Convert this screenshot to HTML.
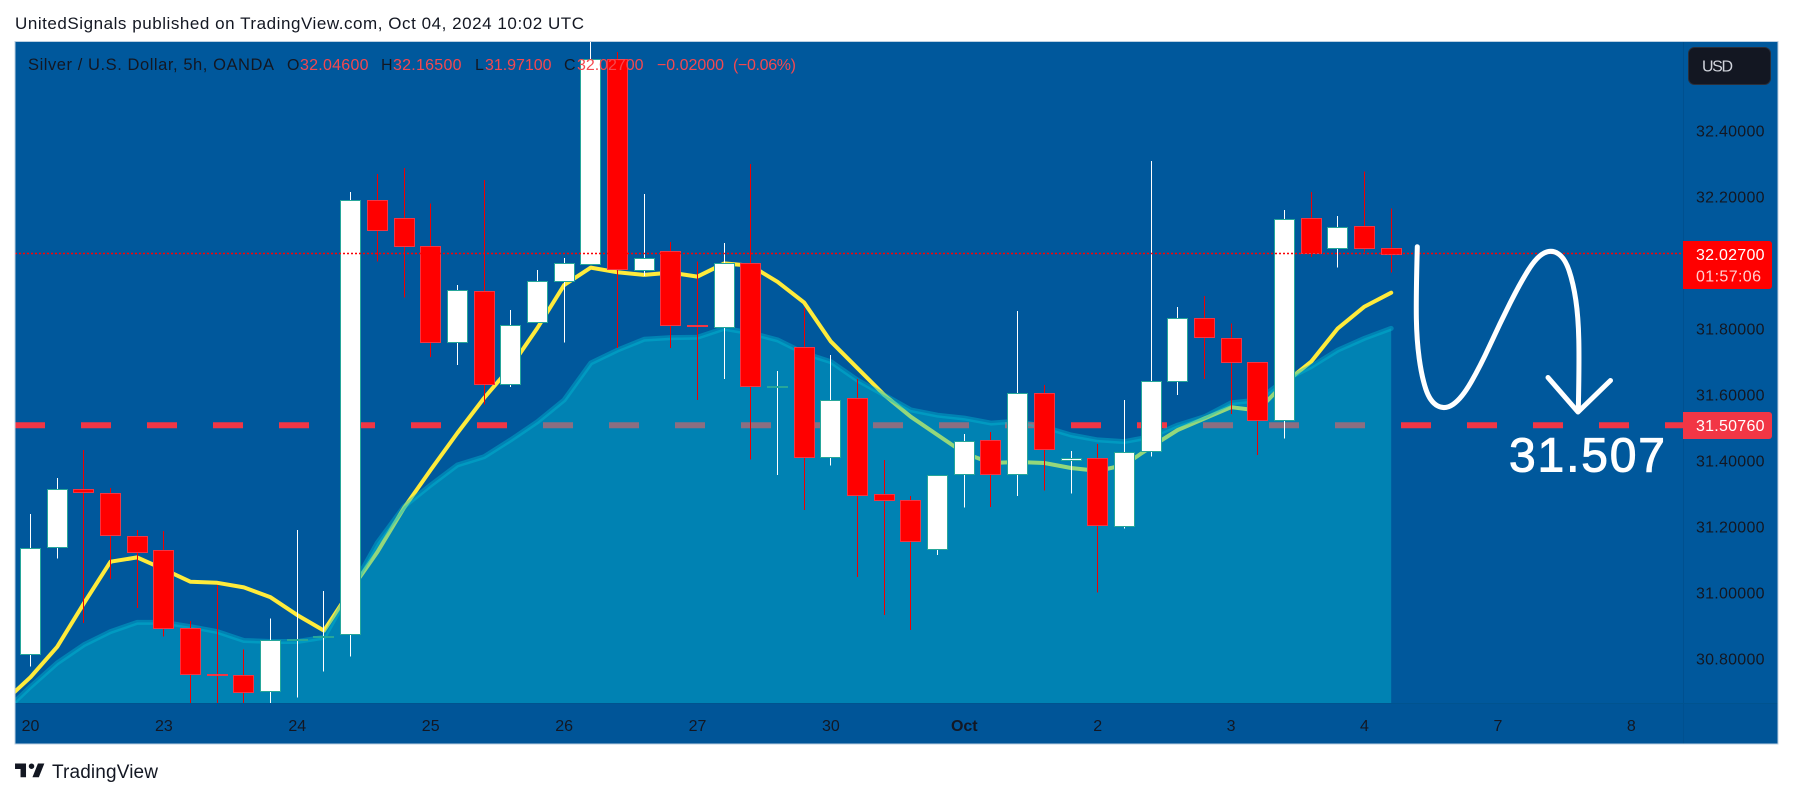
<!DOCTYPE html>
<html lang="en">
<head>
<meta charset="utf-8">
<title>Silver / U.S. Dollar, 5h, OANDA</title>
<style>
  html, body { margin: 0; padding: 0; background: #ffffff; width: 1793px; height: 798px; overflow: hidden; }
  svg { display: block; }
  text { font-family: "Liberation Sans", sans-serif; }
</style>
</head>
<body>
<svg id="chart" xmlns="http://www.w3.org/2000/svg" width="1793" height="798" viewBox="0 0 1793 798">
  <defs>
    <clipPath id="plot-clip"><rect x="15" y="42" width="1668" height="661"></rect></clipPath>
  </defs>

  <text x="15" y="29" font-size="17" fill="#131722" textLength="569" lengthAdjust="spacing">UnitedSignals published on TradingView.com, Oct 04, 2024 10:02 UTC</text>

  <rect x="15" y="41.5" width="1763" height="702" fill="#00589c"></rect>
  <rect x="15" y="703" width="1763" height="41" fill="#005598"></rect>

  <g id="price-axis-group"></g>
  <g id="time-axis-group"></g>

  <g clip-path="url(#plot-clip)">
    <g id="under-area"></g>
    <g id="area-group"></g>
    <g id="candles"></g>
    <g id="over-candles"></g>
  </g>

  <line x1="1683.5" y1="42" x2="1683.5" y2="744" stroke="#00508f" stroke-width="1"></line>
  <line x1="15" y1="703.5" x2="1778" y2="703.5" stroke="#00538f" stroke-width="1"></line>
  <rect x="15" y="41.5" width="1763" height="702.5" fill="none" stroke="#bcd0e2" stroke-width="1"></rect>

  <g font-size="16">
    <text x="28" y="70" fill="#131722" textLength="246" lengthAdjust="spacing" font-size="16.5">Silver / U.S. Dollar, 5h, OANDA</text>
    <text x="287" y="70" fill="#131722">O</text>
    <text x="300" y="70" fill="#f5484f" textLength="68.5" lengthAdjust="spacing">32.04600</text>
    <text x="381" y="70" fill="#131722">H</text>
    <text x="393" y="70" fill="#f5484f" textLength="68.5" lengthAdjust="spacing">32.16500</text>
    <text x="475" y="70" fill="#131722">L</text>
    <text x="485" y="70" fill="#f5484f" textLength="66.5" lengthAdjust="spacing">31.97100</text>
    <text x="564" y="70" fill="#131722">C</text>
    <text x="577" y="70" fill="#f5484f" textLength="66.5" lengthAdjust="spacing">32.02700</text>
    <text x="657" y="70" fill="#f5484f" textLength="67" lengthAdjust="spacing">−0.02000</text>
    <text x="733" y="70" fill="#f5484f" textLength="63" lengthAdjust="spacing">(−0.06%)</text>
  </g>

  <g>
    <rect x="1688.5" y="47.5" width="82" height="37" rx="6" fill="#131722" stroke="#2a2e39" stroke-width="1"></rect>
    <text x="1702" y="71.5" font-size="16" fill="#d1d4dc" textLength="31" lengthAdjust="spacing">USD</text>
  </g>

  <g>
    <path d="M1683 241 h86 a3 3 0 0 1 3 3 v42 a3 3 0 0 1 -3 3 h-86 z" fill="#ff0000"></path>
    <text x="1696" y="260" font-size="16" fill="#ffffff" textLength="68.5" lengthAdjust="spacing">32.02700</text>
    <text x="1696" y="281.5" font-size="16" fill="#ffd0d0" textLength="65" lengthAdjust="spacing">01:57:06</text>
  </g>
  <g>
    <path d="M1683 412 h86 a3 3 0 0 1 3 3 v21 a3 3 0 0 1 -3 3 h-86 z" fill="#f23645"></path>
    <text x="1696" y="431" font-size="16" fill="#ffffff" textLength="68.5" lengthAdjust="spacing">31.50760</text>
  </g>

  <path d="M1417.3 246.7 Q1416 296.7 1416.35 318.35 Q1416.7 340 1419.2 358.35 Q1421.7 376.7 1425.85 389.2 Q1430 401.7 1437.5 405.85 Q1445 410 1453.35 404.15 Q1461.7 398.3 1470.85 382.5 Q1480 366.7 1490 345 Q1500 323.3 1510 303.3 Q1520 283.3 1528.35 270 Q1536.7 256.7 1544.2 253 Q1551.7 249.3 1558.35 253.8 Q1565 258.3 1569.15 270.8 Q1573.3 283.3 1575.8 300 Q1578.3 316.7 1578.8 340 Q1579.3 363.3 1578.3 410" fill="none" stroke="#ffffff" stroke-width="5" stroke-linecap="round" stroke-linejoin="round"></path>
  <path d="M1548 377.5 L1578 412 L1610.5 380.5" fill="none" stroke="#ffffff" stroke-width="5" stroke-linecap="round" stroke-linejoin="round"></path>
  <text x="1509" y="471.5" font-size="48" fill="#ffffff" stroke="#ffffff" stroke-width="1" textLength="156" lengthAdjust="spacing">31.507</text>

  <g>
    <path d="M14 6H2v6h6v9h6V6zm14 15h-7l6-15h7l-6 15zm-8-9a3 3 0 1 0 0-6 3 3 0 0 0 0 6z" fill="#131722" transform="translate(13.2 758) scale(0.916)"></path>
    <text x="52" y="778" font-size="19" fill="#131722" textLength="106" lengthAdjust="spacing">TradingView</text>
  </g>
</svg>

<script>
// ---- Chart data ----
const openPrices = [30.813,31.138,31.313,31.301,31.171,31.128,30.892,30.753,30.750,30.702,30.859,30.866,30.874,32.189,32.135,32.050,31.759,31.913,31.632,31.819,31.944,31.995,32.618,31.977,32.035,31.812,31.804,31.998,31.625,31.744,31.410,31.591,31.298,31.281,31.132,31.359,31.462,31.359,31.604,31.403,31.407,31.201,31.429,31.642,31.832,31.771,31.698,31.522,32.135,32.044,32.110,32.046];
const highPrices = [31.238,31.348,31.432,31.317,31.190,31.187,30.914,31.023,30.828,30.922,31.190,31.005,32.214,32.269,32.287,32.180,31.932,32.251,31.857,31.978,32.015,32.705,32.638,32.208,32.062,32.003,32.060,32.299,31.672,31.863,31.720,31.647,31.402,31.293,31.356,31.481,31.487,31.854,31.629,31.429,31.451,31.584,32.308,31.866,31.899,31.816,31.698,32.160,32.214,32.142,32.276,32.165];
const lowPrices = [30.776,31.103,30.908,31.042,30.954,30.867,30.645,30.645,30.645,30.645,30.682,30.761,30.806,32.003,31.894,31.715,31.690,31.570,31.624,31.819,31.758,31.995,31.742,31.960,31.742,31.584,31.648,31.404,31.357,31.251,31.385,31.048,30.932,30.887,31.115,31.258,31.260,31.293,31.309,31.300,31.000,31.194,31.412,31.599,31.647,31.541,31.417,31.468,32.018,31.985,32.033,31.971];
const closePrices = [31.135,31.313,31.304,31.176,31.122,30.892,30.753,30.750,30.698,30.858,30.859,30.870,32.189,32.098,32.052,31.759,31.916,31.632,31.810,31.944,31.998,32.618,31.980,32.013,31.810,31.810,31.998,31.625,31.625,31.412,31.584,31.295,31.280,31.156,31.356,31.461,31.359,31.604,31.435,31.407,31.204,31.427,31.641,31.832,31.774,31.698,31.522,32.132,32.028,32.107,32.045,32.027];

// Moving averages; first entry is the bar just left of the visible range (bar -1)
const fastEma = [30.669,30.744,30.836,30.968,31.094,31.107,31.071,31.033,31.030,31.016,30.986,30.932,30.885,31.008,31.123,31.257,31.372,31.484,31.590,31.684,31.802,31.932,31.985,31.971,31.963,31.970,31.958,31.998,31.991,31.942,31.879,31.761,31.680,31.599,31.533,31.478,31.423,31.393,31.396,31.393,31.378,31.369,31.387,31.442,31.493,31.528,31.562,31.552,31.635,31.700,31.801,31.867,31.909];
const slowEma = [30.638,30.715,30.787,30.842,30.882,30.910,30.910,30.897,30.882,30.855,30.852,30.852,30.865,31.008,31.151,31.261,31.326,31.387,31.412,31.463,31.518,31.584,31.696,31.735,31.768,31.773,31.774,31.801,31.787,31.766,31.726,31.700,31.644,31.599,31.554,31.538,31.529,31.514,31.520,31.502,31.478,31.463,31.458,31.473,31.508,31.533,31.575,31.584,31.644,31.685,31.735,31.771,31.801];

const priceTicks = [32.4,32.2,31.8,31.6,31.4,31.2,31.0,30.8];
const timeTickLabels = ["20","23","24","25","26","27","30","Oct","2","3","4","7","8"];
const timeTickBars = [0,5,10,15,20,25,30,35,40,45,50,55,60];
const lastPrice = 32.027;
const targetPrice = 31.5076;

// ---- Axis functions ----
function xScale(bar) { return 30.5 + 26.68 * bar; }
function yScale(price) { return 130.7 + (32.4 - price) * 330; }

const NS = 'http://www.w3.org/2000/svg';
function make(tag, parent, attrs) {
  const el = document.createElementNS(NS, tag);
  for (const k in attrs) el.setAttribute(k, attrs[k]);
  parent.appendChild(el);
  return el;
}

// ---- Price axis ----
const priceAxis = document.getElementById('price-axis-group');
priceTicks.forEach(function (p) {
  const t = make('text', priceAxis, { x: 1696, y: yScale(p) + 5.8, 'font-size': 16, fill: '#131722', textLength: 68.5, lengthAdjust: 'spacing' });
  
  
  t.textContent = p.toFixed(5);
});

// ---- Time axis ----
const timeAxis = document.getElementById('time-axis-group');
timeTickLabels.forEach(function (label, i) {
  const t = make('text', timeAxis, { x: xScale(timeTickBars[i]), y: 730.8, 'font-size': 16, fill: '#131722', 'text-anchor': 'middle', 'font-weight': label === 'Oct' ? 'bold' : 'normal' });
  
  
  t.textContent = label;
});

// ---- Lines below the translucent area ----
const under = document.getElementById('under-area');
const targetLine = make('line', under, { x1: 15, x2: 1683, y1: yScale(targetPrice), y2: yScale(targetPrice), stroke: '#f23645', 'stroke-width': 6, 'stroke-dasharray': '30 36' });



function linePath(values) {
  return values.map(function (v, i) {
    return (i === 0 ? 'M' : 'L') + xScale(i - 1).toFixed(1) + ' ' + yScale(v).toFixed(1);
  }).join(' ');
}
const fastLine = make('path', under, { d: linePath(fastEma), fill: 'none', stroke: '#ffeb3b', 'stroke-width': 4, 'stroke-linejoin': 'round', 'stroke-linecap': 'round' });



// ---- Area + slow EMA ----
const areaGroup = document.getElementById('area-group');
const lastBar = slowEma.length - 2;
const areaFill = make('path', areaGroup, { d: linePath(slowEma) + ' L' + xScale(lastBar).toFixed(1) + ' 703 L' + xScale(-1).toFixed(1) + ' 703 Z', fill: 'rgba(0,188,212,0.42)', stroke: 'none' });


const slowLine = make('path', areaGroup, { d: linePath(slowEma), fill: 'none', stroke: 'rgba(0,188,212,0.42)', 'stroke-width': 5, 'stroke-linejoin': 'round', 'stroke-linecap': 'round' });



// ---- Candles ----
const candles = document.getElementById('candles');
openPrices.forEach(function (o, i) {
  const c = closePrices[i], h = highPrices[i], l = lowPrices[i];
  const up = c >= o;
  const cx = Math.floor(xScale(i)) + 0.5;
  const g = make('g', candles, {});
  
  
  const wick = make('line', g, { x1: cx, x2: cx, y1: yScale(h), y2: yScale(l), stroke: up ? '#ffffff' : '#f00000', 'stroke-width': 1, 'shape-rendering': 'crispEdges' });
  
  
  const top = Math.round(yScale(Math.max(o, c))) + 0.5;
  const bottom = Math.round(yScale(Math.min(o, c))) + 0.5;
  const body = make('rect', g, { x: cx - 10, y: top, width: 20, height: Math.max(bottom - top, 1), fill: up ? '#ffffff' : '#ff0000', stroke: up ? '#26a69a' : '#f23645', 'stroke-width': 1, 'shape-rendering': 'crispEdges' });
  
  
});

// ---- Last price dotted line ----
const over = document.getElementById('over-candles');
const lastLine = make('line', over, { x1: 15, x2: 1683, y1: Math.floor(yScale(lastPrice)) + 0.5, y2: Math.floor(yScale(lastPrice)) + 0.5, stroke: '#ff0000', 'stroke-width': 1.5, 'stroke-dasharray': '2 2' });


</script>
</body>
</html>
